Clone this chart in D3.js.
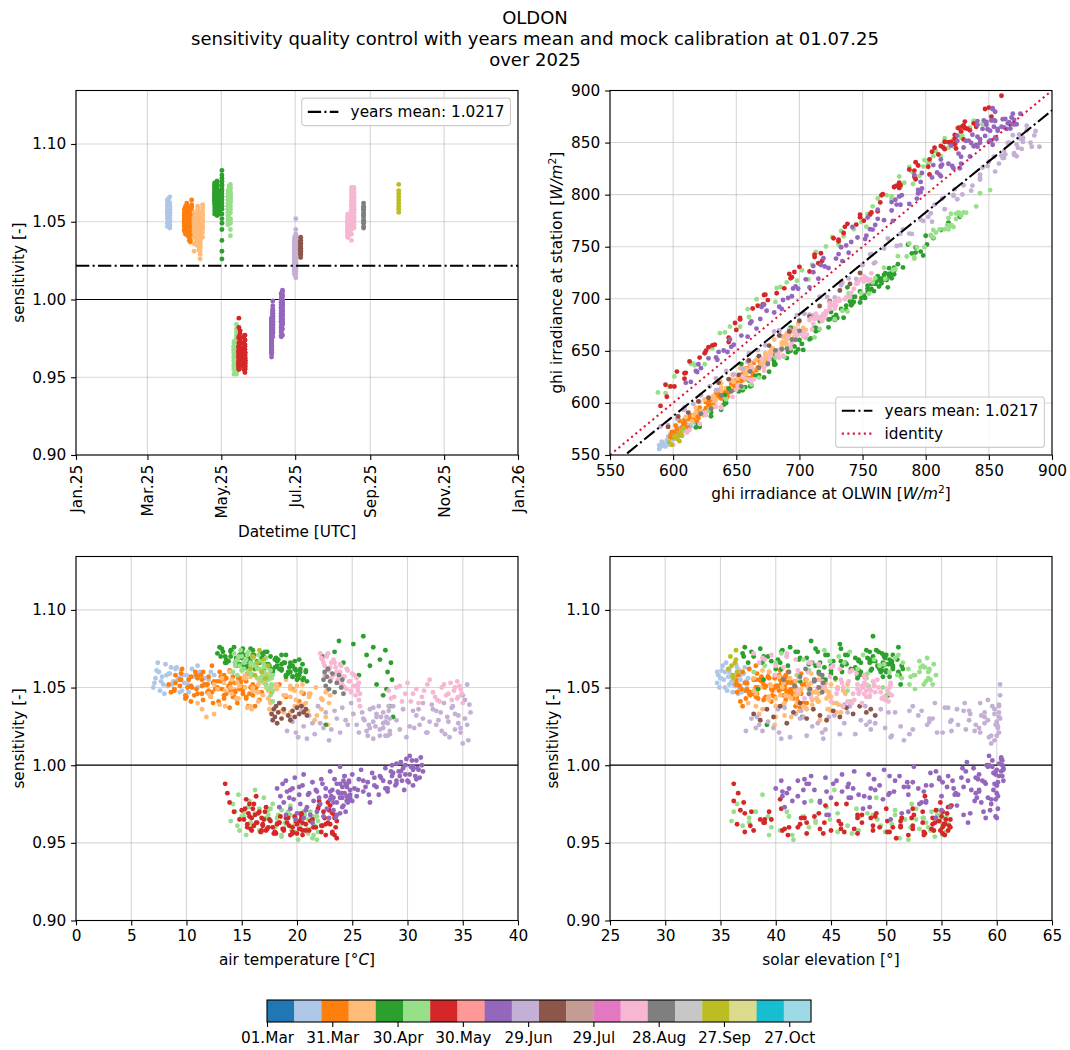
<!DOCTYPE html>
<html><head><meta charset="utf-8">
<script src="https://cdn.jsdelivr.net/npm/d3@7"></script>
<style>body{margin:0;background:#fff}text{font-family:"DejaVu Sans",sans-serif}</style>
</head><body><svg id="c" width="1070" height="1050"></svg>
<script>
// ---------------- data ----------------
const station = "OLDON";
const yearsMean = 1.0217;
const sensLim = [0.90, 1.1344];
const sensTicks = [0.90, 0.95, 1.00, 1.05, 1.10];
const dateTicks = ["2025-01-01","2025-03-01","2025-05-01","2025-07-01","2025-09-01","2025-11-01","2026-01-01"];
const dateTickLabels = ["Jan.25","Mar.25","May.25","Jul.25","Sep.25","Nov.25","Jan.26"];
const ghiTicks = [550, 600, 650, 700, 750, 800, 850, 900];
const tempTicks = [0, 5, 10, 15, 20, 25, 30, 35, 40];
const elevTicks = [25, 30, 35, 40, 45, 50, 55, 60, 65];
const cbarRange = ["2025-03-01", "2025-11-06"];
const cbarTicks = ["2025-03-01","2025-03-31","2025-04-30","2025-05-30","2025-06-29","2025-07-29","2025-08-28","2025-09-27","2025-10-27"];
const cbarTickLabels = ["01.Mar","31.Mar","30.Apr","30.May","29.Jun","29.Jul","28.Aug","27.Sep","27.Oct"];

// per-day measurements: [solar elevation °, ghi at OLWIN W/m², air temperature °C, sensitivity]
const d0317 = [[35.0,592,7.2,1.056],[35.4,596,7.5,1.060],[35.8,600,7.9,1.052],[36.2,604,8.2,1.058],[36.5,607,8.6,1.063],[36.7,609,8.9,1.049],[36.8,610,9.2,1.055],[36.7,608,9.5,1.061],[36.5,606,9.8,1.053],[36.1,603,10.2,1.047],[35.7,599,10.6,1.057],[35.2,594,11.0,1.064]];
const d0318 = [[34.7,589,7.1,1.053],[35.1,593,7.3,1.061],[35.6,598,7.6,1.048],[36.0,602,7.8,1.057],[36.4,606,8.1,1.065],[36.8,610,8.3,1.051],[37.1,613,8.5,1.059],[37.3,615,8.8,1.054],[37.2,614,9.1,1.063],[36.9,611,9.4,1.047],[36.6,608,9.7,1.058],[36.2,604,10.1,1.052],[35.8,600,10.5,1.062],[35.4,596,11.0,1.050],[35.0,592,11.6,1.056],[34.7,589,12.2,1.060]];
const d0319 = [[34.9,591,7.0,1.050],[35.5,597,7.4,1.066],[36.0,602,7.7,1.054],[36.6,608,8.0,1.046],[37.0,612,8.4,1.059],[37.4,615,8.7,1.052],[37.6,617,9.0,1.062],[37.5,616,9.3,1.056],[37.2,613,9.6,1.048],[36.8,609,10.0,1.058],[36.3,605,10.4,1.051],[35.8,600,11.2,1.060],[35.3,595,12.0,1.055],[34.8,590,12.5,1.058]];
const d0331 = [[36.4,598,8.4,1.052],[37.3,608,8.9,1.048],[38.2,619,9.5,1.055],[39.0,628,10.1,1.050],[39.7,636,10.7,1.045],[40.3,642,11.3,1.058],[40.8,647,11.8,1.052],[41.0,649,12.3,1.047],[40.9,648,12.8,1.054],[40.5,644,13.2,1.049],[39.9,638,13.6,1.056],[39.1,629,13.9,1.051],[38.2,619,14.2,1.044],[37.2,607,14.4,1.053]];
const d0401 = [[36.5,599,8.6,1.047],[37.4,609,9.0,1.053],[38.3,620,9.5,1.059],[39.1,629,10.0,1.044],[39.8,637,10.5,1.050],[40.4,643,11.0,1.056],[40.9,648,11.5,1.042],[41.2,651,12.0,1.048],[41.3,652,12.5,1.054],[41.1,650,13.0,1.060],[40.7,646,13.4,1.045],[40.1,640,13.8,1.051],[39.3,631,14.2,1.057],[38.4,621,14.5,1.043],[37.4,609,14.8,1.049],[36.4,598,15.0,1.055]];
const d0402 = [[36.6,600,9.0,1.058],[37.6,612,9.6,1.062],[38.5,622,10.2,1.055],[39.4,632,10.8,1.060],[40.2,641,11.4,1.051],[40.9,648,12.0,1.057],[41.4,653,12.6,1.049],[41.7,656,13.1,1.054],[41.5,654,13.6,1.046],[41.0,649,14.0,1.053],[40.3,642,14.4,1.048],[39.4,632,14.8,1.056],[38.4,621,15.1,1.050],[37.3,609,15.4,1.043]];
const d0403 = [[36.7,601,9.4,1.051],[37.7,613,9.9,1.045],[38.7,624,10.4,1.057],[39.6,634,10.9,1.049],[40.4,643,11.4,1.055],[41.1,650,11.9,1.047],[41.7,656,12.4,1.053],[42.0,659,12.9,1.041],[42.1,660,13.4,1.058],[41.8,657,13.9,1.050],[41.3,652,14.3,1.044],[40.6,645,14.7,1.056],[39.7,635,15.1,1.048],[38.7,624,15.4,1.054],[37.6,612,15.7,1.046],[36.5,599,16.0,1.052]];
const d0404 = [[36.8,602,10.4,1.041],[37.9,615,11.0,1.046],[38.9,626,11.6,1.052],[39.9,637,12.2,1.044],[40.8,647,12.8,1.050],[41.6,655,13.4,1.043],[42.2,661,14.0,1.048],[42.5,664,14.6,1.040],[42.3,662,15.1,1.046],[41.8,657,15.6,1.038],[41.0,649,16.0,1.045],[40.0,638,16.3,1.050],[38.9,626,16.6,1.042],[37.7,613,16.8,1.047]];
const d0405 = [[36.9,603,8.9,1.049],[38.0,616,9.4,1.055],[39.0,627,9.9,1.043],[40.0,638,10.4,1.051],[40.9,648,10.9,1.058],[41.7,656,11.4,1.046],[42.4,663,11.9,1.052],[42.8,667,12.4,1.040],[43.0,669,12.9,1.049],[42.7,666,13.4,1.055],[42.2,661,13.9,1.037],[41.4,653,14.4,1.047],[40.5,643,14.9,1.053],[39.4,631,15.4,1.044],[38.2,618,15.8,1.050],[37.0,605,16.2,1.038]];
const d0406 = [[37.0,605,11.5,1.060],[38.2,619,12.3,1.064],[39.3,631,13.1,1.057],[40.4,643,13.9,1.061],[41.4,654,14.7,1.053],[42.3,663,15.5,1.059],[43.0,670,16.3,1.050],[43.5,675,17.0,1.055],[43.3,673,17.7,1.047],[42.7,667,18.4,1.052],[41.9,659,19.0,1.044],[40.8,647,19.6,1.049],[39.6,634,20.2,1.041],[38.3,620,20.6,1.046]];
const d0408 = [[37.5,610,11.0,1.040],[38.8,625,11.4,1.036],[40.0,638,11.8,1.031],[41.2,651,12.2,1.044],[42.3,663,12.8,1.049],[43.2,672,13.4,1.053],[43.9,679,14.1,1.046],[44.3,683,14.8,1.051],[44.2,682,15.4,1.056],[43.7,677,16.0,1.048],[42.9,669,16.5,1.052],[41.8,657,16.9,1.045],[40.6,645,17.2,1.050],[39.3,631,17.4,1.043]];
const d0410 = [[38.2,618,12.0,1.046],[39.5,633,12.5,1.052],[40.7,646,13.0,1.039],[41.8,658,13.5,1.048],[42.8,668,14.1,1.055],[43.7,677,14.7,1.043],[44.3,683,15.3,1.050],[44.7,687,15.9,1.036],[44.8,688,16.5,1.047],[44.5,685,17.1,1.053],[43.9,679,17.6,1.041],[43.1,671,18.1,1.049],[42.1,661,18.6,1.035],[40.9,648,19.0,1.045],[39.6,634,19.4,1.051],[38.2,618,19.8,1.038]];
const d0411 = [[38.0,615,13.2,1.056],[39.4,632,13.9,1.060],[40.7,646,14.6,1.053],[41.9,659,15.3,1.058],[43.0,670,16.0,1.050],[43.9,679,16.7,1.055],[44.6,686,17.4,1.048],[45.0,690,18.1,1.052],[44.8,688,18.8,1.045],[44.2,682,19.4,1.049],[43.3,673,19.9,1.042],[42.1,661,20.4,1.047],[40.8,647,20.8,1.040],[39.4,632,21.1,1.044]];
const d0412 = [[38.6,622,14.0,1.050],[40.0,638,14.6,1.043],[41.3,652,15.2,1.056],[42.5,665,15.8,1.038],[43.6,676,16.4,1.047],[44.5,685,17.0,1.053],[45.2,692,17.6,1.040],[45.6,696,18.2,1.049],[45.5,695,18.8,1.034],[45.0,690,19.4,1.044],[44.3,683,20.0,1.051],[43.3,673,20.6,1.039],[42.1,661,21.2,1.046],[40.8,647,21.8,1.032],[39.4,632,22.3,1.042],[38.0,616,22.7,1.048]];
const d0413 = [[38.5,621,12.5,1.033],[40.0,638,13.5,1.038],[41.4,653,14.5,1.043],[42.7,667,15.5,1.037],[43.8,678,16.5,1.041],[44.8,688,17.5,1.036],[45.5,695,18.5,1.040],[45.9,699,19.4,1.034],[45.7,697,20.2,1.039],[45.0,690,21.0,1.035],[44.0,680,21.6,1.029],[42.8,668,22.2,1.036],[41.4,653,22.6,1.031],[39.9,637,22.8,1.026]];
const d0415 = [[38.8,624,15.0,1.061],[40.3,641,15.8,1.057],[41.8,657,16.6,1.054],[43.2,672,17.4,1.059],[44.4,684,18.2,1.051],[45.4,694,19.0,1.055],[46.1,701,19.8,1.048],[46.5,705,20.5,1.052],[46.3,703,21.1,1.046],[45.6,696,21.7,1.050],[44.6,686,22.2,1.043],[43.3,673,22.6,1.047],[41.9,658,22.9,1.040],[40.4,642,23.0,1.045]];
const d0425 = [[37.0,618,12.8,1.072],[38.6,638,13.2,1.075],[40.2,657,13.6,1.068],[41.8,676,14.0,1.073],[43.3,693,14.4,1.066],[44.7,709,14.8,1.071],[46.0,724,15.2,1.064],[47.2,737,15.6,1.069],[48.2,748,16.0,1.074],[49.0,757,16.4,1.067],[49.6,763,16.8,1.072],[49.9,766,17.2,1.065],[49.8,765,17.6,1.070],[49.3,760,18.0,1.063],[48.5,751,18.3,1.068],[47.5,740,18.6,1.061],[46.3,727,18.9,1.066],[45.0,712,19.2,1.059],[43.6,696,19.4,1.064],[42.1,679,19.6,1.057],[40.5,660,19.8,1.062],[38.9,641,20.0,1.055]];
const d0426 = [[37.1,620,13.1,1.070],[38.8,641,13.6,1.066],[40.5,661,14.1,1.073],[42.1,680,14.6,1.068],[43.6,697,15.1,1.075],[45.0,713,15.6,1.064],[46.3,728,16.1,1.071],[47.5,741,16.6,1.067],[48.5,752,17.1,1.073],[49.4,762,17.6,1.062],[49.9,768,18.1,1.069],[50.2,771,18.6,1.065],[50.0,769,19.0,1.071],[49.5,763,19.4,1.060],[48.7,754,19.8,1.067],[47.6,742,20.2,1.058],[46.4,729,20.5,1.065],[45.0,713,20.8,1.061]];
const d0427 = [[37.2,621,13.0,1.076],[38.9,642,13.5,1.070],[40.6,662,14.0,1.074],[42.2,681,14.5,1.069],[43.8,699,15.0,1.073],[45.2,715,15.5,1.067],[46.5,730,16.0,1.071],[47.7,743,16.5,1.066],[48.8,755,17.0,1.070],[49.7,765,17.5,1.064],[50.3,771,18.0,1.068],[50.6,775,18.4,1.062],[50.5,774,18.8,1.066],[50.0,768,19.2,1.060],[49.2,760,19.6,1.064],[48.1,748,20.0,1.058],[46.8,733,20.3,1.062],[45.4,717,20.6,1.056],[43.9,700,20.8,1.060],[42.2,681,20.9,1.054],
  [37.8,630,13.3,1.073],[39.6,652,13.8,1.067],[41.3,672,14.3,1.076],[43.0,691,14.8,1.065],[44.5,708,15.3,1.071],[45.9,723,15.8,1.075],[47.2,737,16.3,1.063],[48.3,749,16.8,1.069],[49.3,759,17.3,1.073],[50.0,767,17.8,1.061],[50.5,773,18.2,1.067],[50.6,775,18.6,1.071],[50.3,771,19.0,1.057],[49.7,765,19.4,1.066],[48.7,754,19.8,1.062],[47.5,741,20.2,1.068]];
const d0429 = [[37.5,630,13.5,1.066],[39.3,655,14.0,1.070],[41.1,680,14.5,1.064],[42.8,702,15.0,1.069],[44.4,723,15.4,1.063],[45.9,742,15.8,1.067],[47.3,760,16.2,1.062],[48.5,775,16.6,1.066],[49.6,789,17.0,1.061],[50.5,801,17.4,1.065],[51.1,812,17.8,1.060],[51.4,820,18.2,1.064],[51.5,827,18.6,1.062],[51.2,818,19.0,1.058],[50.6,806,19.3,1.063],[49.7,792,19.6,1.057],[48.6,778,19.9,1.061],[47.4,762,20.1,1.056],[46.0,744,20.3,1.060],[44.5,725,20.5,1.055]];
const d0501 = [[38.0,640,22.3,1.070],[39.2,654,22.6,1.026],[40.0,665,22.8,1.062],[42.0,690,23.4,1.073],[43.2,703,23.8,1.080],[44.0,713,24.2,1.066],[45.8,735,25.1,1.078],[47.4,754,25.6,1.058],[48.8,770,26.0,1.083],[49.8,782,26.3,1.071],[50.6,792,26.6,1.064],[51.1,798,26.9,1.076],[51.3,800,27.2,1.052],[51.0,796,27.5,1.068],[50.2,786,27.8,1.045],[49.1,773,28.0,1.074],[47.7,757,28.2,1.060],[46.1,738,28.4,1.038],[44.3,716,28.6,1.055],[42.4,693,28.7,1.031],[40.4,668,28.5,1.066],[38.4,644,28.1,1.049]];
const d0506 = [[38.0,628,14.2,1.060],[40.0,655,14.4,1.066],[42.0,681,14.6,1.058],[43.9,705,14.8,1.064],[45.7,728,15.0,1.070],[47.4,749,15.2,1.062],[48.9,768,15.4,1.068],[50.3,785,15.6,1.060],[51.5,799,15.8,1.066],[52.5,811,16.0,1.058],[53.3,820,16.2,1.064],[53.8,826,16.4,1.056],[53.9,828,16.6,1.062],[53.6,824,16.8,1.054],[53.0,817,17.0,1.060],[52.1,806,17.2,1.052],[51.0,793,17.4,1.058],[49.7,778,17.6,1.050],[48.2,760,17.7,1.056],[46.5,739,17.8,1.048]];
const d0507 = [[39.0,642,14.4,1.064],[41.0,668,14.7,1.070],[43.0,693,15.0,1.061],[44.9,716,15.3,1.067],[46.7,738,15.6,1.073],[48.3,758,15.9,1.059],[49.8,776,16.2,1.065],[51.1,791,16.5,1.071],[52.2,804,16.8,1.057],[53.1,815,17.0,1.063],[53.7,822,17.2,1.069],[54.0,826,17.4,1.055],[53.9,824,17.6,1.061],[53.4,818,17.7,1.052],[52.6,808,17.8,1.058]];
const d0508 = [[40.5,662,14.3,1.072],[42.5,688,14.6,1.068],[44.4,712,14.9,1.074],[46.2,734,15.2,1.066],[47.9,755,15.5,1.071],[49.4,774,15.8,1.064],[50.8,791,16.1,1.069],[52.0,806,16.4,1.062],[53.0,818,16.6,1.067],[53.8,830,16.8,1.060],[54.3,840,17.0,1.065],[54.5,851,17.1,1.058],[54.2,843,17.2,1.052],[53.5,832,17.3,1.063],[52.6,820,17.4,1.049],[51.4,804,17.5,1.056],[50.0,787,17.6,1.045],[48.4,767,17.7,1.051],[46.7,746,17.8,1.041]];
const d0511 = [[36.0,588,14.0,0.964],[38.2,617,14.4,0.970],[40.4,645,14.8,0.958],[42.5,672,15.2,0.967],[44.6,698,15.6,0.973],[46.5,721,16.0,0.961],[48.3,743,16.4,0.969],[49.9,762,16.8,0.957],[51.4,780,17.2,0.966],[52.7,795,17.6,0.972],[53.8,808,18.0,0.960],[54.6,818,18.3,0.968],[55.1,825,18.6,0.955],[55.3,828,18.9,0.963],[55.0,824,19.2,0.970],[54.3,815,19.5,0.958],[53.3,802,19.8,0.966],[52.0,787,20.1,0.952],[50.5,769,20.4,0.962],[48.8,749,20.7,0.968],[46.9,726,21.0,0.956],[44.9,702,21.3,0.965],
  [43.0,682,21.4,0.960],[41.2,660,21.5,0.967],[39.4,637,21.5,0.955],[37.6,614,21.4,0.963],[36.2,597,21.2,0.970]];
const d0512 = [[37.0,601,14.6,0.961],[39.3,631,15.0,0.967],[41.5,659,15.4,0.955],[43.6,685,15.8,0.963],[45.6,710,16.2,0.969],[47.5,733,16.6,0.958],[49.2,754,17.0,0.965],[50.8,773,17.4,0.971],[52.2,789,17.8,0.960],[53.4,803,18.2,0.966],[54.4,815,18.6,0.954],[55.1,824,19.0,0.962],[55.5,829,19.4,0.968],[55.4,828,19.8,0.957],[54.9,822,20.2,0.964],[54.1,812,20.6,0.970],[53.0,799,21.0,0.959],[51.7,783,21.4,0.965]];
const d0513 = [[36.5,594,14.2,0.975],[38.8,625,14.7,0.981],[41.0,653,15.2,0.970],[43.2,681,15.7,0.977],[45.3,707,16.2,0.984],[47.3,731,16.6,0.972],[49.1,753,17.0,0.979],[50.8,773,17.4,0.968],[52.3,790,17.8,0.975],[53.6,806,18.2,0.963],[54.6,822,18.6,0.971],[55.3,835,19.0,0.966],[55.8,845,19.4,0.974],[55.6,838,19.8,0.962],[55.0,828,20.2,0.969],[54.0,815,20.6,0.958],[52.7,798,21.0,0.965],[51.2,779,21.4,0.953],[49.5,758,21.6,0.961],[47.6,735,21.8,0.967],
  [45.6,713,21.9,0.957],[43.6,690,21.9,0.964],[41.6,666,21.8,0.952],[39.6,641,21.7,0.960],[37.6,616,21.5,0.966]];
const d0515 = [[36.2,590,13.5,0.988],[36.6,595,13.7,0.982],[37.1,601,13.9,0.976],[37.8,610,14.3,0.970],[39.0,625,14.8,0.965],[40.5,644,15.3,0.972],[42.0,663,15.5,0.960],[43.5,682,15.7,0.967],[45.0,700,15.9,0.958],[46.4,718,16.1,0.975],[47.8,735,16.3,0.963],[49.1,751,16.5,0.969],[50.3,766,16.7,0.957],[51.4,779,16.8,0.966],[52.4,791,16.9,0.961],[53.3,802,17.1,0.970],[54.1,812,17.3,0.959],[54.7,820,17.6,0.964],[55.1,826,17.9,0.956],[55.3,828,18.2,0.962],[55.0,824,18.5,0.967],[54.3,815,18.8,0.958],[53.3,803,19.1,0.963],[52.0,787,19.4,0.955],
  [50.6,775,19.6,0.960],[49.0,757,19.8,0.967],[47.4,738,20.0,0.956],[45.7,717,20.2,0.964],[44.0,696,20.3,0.959],[42.3,675,20.4,0.966],[40.6,653,20.5,0.958],[38.9,631,20.5,0.963],[37.2,609,20.4,0.969]];
const d0516 = [[36.8,598,15.0,0.971],[38.6,621,15.2,0.965],[40.4,644,15.4,0.978],[42.2,667,15.5,0.962],[43.9,688,15.6,0.969],[45.5,708,15.7,0.975],[47.1,727,15.8,0.959],[48.6,745,15.9,0.966],[50.0,762,16.0,0.972],[51.3,777,16.1,0.961],[52.5,791,16.2,0.968],[53.5,803,16.3,0.980],[54.4,814,16.4,0.963],[55.1,823,16.6,0.970],[55.6,830,16.8,0.958],[55.8,833,17.0,0.965],[55.6,830,17.2,0.973],[55.1,823,17.4,0.960]];
const d0519 = [[37.2,603,18.0,0.957],[39.0,626,18.4,0.963],[40.8,649,18.8,0.959],[42.6,671,19.2,0.966],[44.3,692,19.6,0.956],[45.9,712,20.0,0.962],[47.4,731,20.4,0.968],[48.8,748,20.8,0.958],[50.1,764,21.2,0.964],[51.3,779,21.5,0.960],[52.4,792,21.9,0.972],[53.4,805,22.2,0.957],[54.2,815,22.5,0.966],[54.9,824,22.8,0.976],[55.3,831,23.0,0.962],[55.5,835,23.2,0.969],[55.3,831,23.4,0.955],[54.8,823,23.6,0.964]];
const d0520 = [[36.5,594,16.9,0.962],[38.0,613,17.2,0.958],[39.6,633,17.5,0.965],[41.2,653,17.8,0.960],[42.8,673,18.1,0.956],[44.4,693,18.4,0.963],[45.9,712,18.7,0.959],[47.4,731,19.0,0.966],[48.8,748,19.3,0.961],[50.1,765,19.6,0.957],[51.3,780,19.9,0.964],[52.4,794,20.2,0.959],[53.4,807,20.5,0.955],[54.2,818,20.8,0.962],[54.9,829,21.1,0.958],[55.4,838,21.4,0.965],[55.8,847,21.7,0.960],[55.9,852,22.0,0.974],[55.7,860,22.3,0.961],[55.2,850,22.6,0.962],[54.5,840,22.9,0.971],[53.5,826,23.2,0.956],[52.3,810,23.4,0.966],[50.9,792,23.6,0.953],
  [49.4,775,23.5,0.960],[47.8,756,23.4,0.968],[46.2,736,23.2,0.957],[44.5,715,23.0,0.974],[42.8,694,22.8,0.963],[41.1,672,22.6,0.955],[39.4,650,22.4,0.970],[37.7,628,22.2,0.961],[36.2,609,22.0,0.977]];
const d0611 = [[40.0,610,18.2,0.985],[42.0,636,18.5,0.980],[44.0,662,18.8,0.976],[46.0,687,19.1,0.983],[47.9,711,19.4,0.972],[49.7,733,19.7,0.978],[51.4,754,20.0,0.969],[53.0,773,20.3,0.975],[54.5,791,20.6,0.966],[55.8,806,20.9,0.973],[57.0,820,21.2,0.968],[58.0,832,21.5,0.977],[58.8,841,21.8,0.970],[59.5,848,22.1,0.975],[59.9,853,22.4,0.967],[60.1,855,22.7,0.972],[59.9,852,23.0,0.978],[59.4,846,23.3,0.971],[58.6,837,23.6,0.976],[57.6,825,23.9,0.969],[56.4,812,24.2,0.974],[55.0,796,24.5,0.980],
  [40.8,620,18.4,0.973],[42.8,646,18.7,0.988],[44.8,672,19.0,0.968],[46.8,697,19.3,0.979],[48.6,720,19.6,0.985],[50.4,742,19.9,0.965],[52.0,762,20.2,0.981],[53.6,780,20.5,0.987],[55.0,797,20.8,0.971],[56.3,812,21.1,0.982],[57.4,825,21.4,0.963],[58.4,836,21.7,0.984],[59.2,845,22.0,0.979],[59.8,851,22.3,0.988],[60.1,854,22.6,0.980],[60.0,853,22.9,0.966],[59.7,849,23.2,0.984],[59.0,841,23.5,0.966],[58.1,830,23.8,0.982],[57.0,818,24.1,0.986],
  [53.6,781,24.5,0.977],[52.0,762,24.4,0.970],[50.3,741,24.3,0.982],[48.5,719,24.1,0.973],[46.6,695,23.9,0.979],[44.6,670,23.6,0.968],[42.6,645,23.3,0.976],[40.6,619,23.0,0.983]];
const d0612 = [[40.5,614,19.0,0.990],[42.5,640,19.4,0.984],[44.5,666,19.8,0.992],[46.5,691,20.2,0.986],[48.4,715,20.6,0.994],[50.2,737,21.0,0.981],[51.9,758,21.4,0.989],[53.4,777,21.8,0.983],[54.8,794,22.2,0.991],[56.1,809,22.6,0.985],[57.2,822,23.0,0.996],[58.2,834,23.3,0.979],[59.0,843,23.6,0.988],[59.6,850,23.9,0.999],[60.0,855,24.1,0.982],[60.2,857,24.3,0.993],[60.0,854,24.5,0.987],[59.5,848,24.6,0.978],[58.7,838,24.7,0.990],[57.7,826,24.8,0.984],
  [56.5,812,24.8,0.981],[55.1,797,24.7,0.989],[53.6,779,24.6,0.976],[52.0,760,24.5,0.986],[50.3,739,24.3,0.993],[48.5,717,24.1,0.979],[46.6,694,23.9,0.988],[44.6,669,23.7,0.983],[42.6,643,23.4,0.991],[40.6,618,23.1,0.980]];
const d0619 = [[41.0,622,24.0,0.982],[43.0,648,24.4,0.988],[45.0,674,24.8,0.979],[47.0,699,25.2,0.985],[48.9,723,25.6,0.991],[50.7,746,26.0,0.983],[52.4,767,26.4,0.989],[54.0,787,26.8,0.995],[55.5,805,27.2,0.986],[56.8,821,27.6,0.992],[57.9,835,28.0,0.998],[58.9,847,28.4,0.989],[59.7,857,28.7,0.995],[60.2,864,29.0,1.001],[60.5,868,29.3,0.993],[60.6,870,29.6,0.998],[60.4,867,29.9,1.004],[59.9,860,30.2,0.994],[59.2,851,30.5,0.999],[58.3,840,30.8,0.991],
  [42.0,635,24.2,0.990],[44.0,661,24.6,0.977],[46.0,686,25.0,0.994],[48.0,711,25.4,0.980],[49.8,734,25.8,0.997],[51.6,756,26.2,0.986],[53.2,776,26.6,0.976],[54.8,796,27.0,0.992],[56.2,813,27.4,0.981],[57.4,828,27.8,0.990],[58.4,841,28.2,0.983],[59.3,852,28.6,1.000],[60.0,861,28.9,0.987],[60.4,866,29.2,0.996],[60.6,869,29.5,0.990],[60.5,868,29.8,1.000],[60.1,863,30.1,0.989],[59.6,856,30.4,1.003]];
const d0620 = [[41.5,628,25.0,0.977],[43.5,654,25.5,0.984],[45.5,680,26.0,0.990],[47.5,705,26.5,0.981],[49.4,729,27.0,0.987],[51.2,752,27.5,0.993],[52.9,773,28.0,0.985],[54.5,793,28.5,0.996],[56.0,811,29.0,0.990],[57.3,827,29.4,1.002],[58.4,841,29.8,0.994],[59.3,853,30.2,1.006],[60.0,862,30.5,0.997],[60.5,870,30.8,1.003],[60.6,875,31.0,0.997],[60.4,872,31.2,1.005],[59.9,865,31.4,0.996],[59.1,855,31.3,1.000],[58.1,843,31.1,0.992],[56.9,828,30.9,0.998],
  [55.6,812,30.7,0.993],[54.1,794,30.5,0.987],[52.5,774,30.3,0.999],[50.8,753,30.0,0.990],[49.0,731,29.7,0.984],[47.1,708,29.4,0.996],[45.2,684,29.0,0.988],[43.2,659,28.6,0.993],[41.2,634,28.2,0.985]];
const d0630 = [[37.3,590,19.1,1.022],[39.3,616,19.6,1.028],[41.3,642,20.1,1.018],[43.3,667,20.6,1.025],[45.3,692,21.1,1.032],[47.2,716,21.6,1.020],[49.0,739,22.1,1.027],[50.8,760,22.6,1.034],[52.4,780,23.1,1.023],[53.9,798,23.6,1.030],[55.3,815,24.1,1.037],[56.5,830,24.6,1.026],[57.6,843,25.1,1.033],[58.5,854,25.6,1.021],[59.2,863,26.1,1.029],[59.8,870,26.6,1.036],[60.1,875,27.1,1.025],[60.2,877,27.6,1.031],[60.0,874,28.0,1.019],
  [38.3,603,19.4,1.031],[40.3,629,19.9,1.021],[42.3,655,20.4,1.035],[44.3,680,20.9,1.017],[46.2,704,21.4,1.027],[48.1,728,21.9,1.038],[49.9,750,22.4,1.024],[51.6,770,22.9,1.016],[53.2,789,23.4,1.035],[54.6,807,23.9,1.021],[55.9,822,24.4,1.029],[57.1,836,24.9,1.040],[58.1,849,25.4,1.026],[58.9,858,25.9,1.034],[59.5,866,26.4,1.019],[60.0,872,26.9,1.028],[60.2,876,27.4,1.038],[60.1,875,27.8,1.024],
  [58.9,860,28.2,1.027],[57.5,843,28.3,1.035],[55.9,823,28.4,1.022],[54.2,802,28.4,1.030],[52.4,780,28.3,1.038],[50.5,757,28.2,1.019],[48.5,733,28.0,1.028],[46.5,708,27.8,1.034],[44.5,684,27.5,1.023],[42.5,659,27.2,1.031],[40.5,634,26.9,1.017],[38.5,609,26.5,1.026]];
const d0701 = [[37.8,596,26.0,1.030],[39.8,622,26.6,1.024],[41.8,648,27.2,1.033],[43.8,673,27.8,1.027],[45.8,698,28.4,1.020],[47.7,722,29.0,1.029],[49.5,745,29.6,1.036],[51.3,767,30.2,1.025],[52.9,787,30.8,1.032],[54.4,805,31.4,1.040],[55.8,822,32.0,1.028],[57.0,837,32.6,1.035],[58.0,850,33.1,1.022],[58.9,861,33.6,1.031],[59.6,870,34.1,1.038],[60.0,877,34.6,1.027],[60.3,884,35.0,1.045],[60.3,890,35.4,1.052],[60.2,886,35.7,1.034],[59.8,880,35.5,1.016],[59.2,872,35.2,1.042],[58.4,862,34.8,1.024],
  [38.8,609,26.3,1.022],[40.8,635,26.9,1.037],[42.8,660,27.5,1.019],[44.8,685,28.1,1.031],[46.7,710,28.7,1.038],[48.6,733,29.3,1.023],[50.4,756,29.9,1.018],[52.1,777,30.5,1.035],[53.7,796,31.1,1.026],[55.1,813,31.7,1.021],[56.4,829,32.3,1.036],[57.5,843,32.8,1.029],[58.5,855,33.3,1.040],[59.3,865,33.8,1.018],[59.8,873,34.3,1.033],[60.2,880,34.8,1.021],[60.3,887,35.2,1.030],[60.2,883,35.6,1.039],[59.9,877,35.4,1.026],[59.5,869,35.0,1.014],
  [58.6,862,34.6,1.032],[57.2,845,34.3,1.023],[55.6,825,34.0,1.037],[53.9,804,33.7,1.028],[52.1,782,33.4,1.020],[50.2,759,33.0,1.034],[48.2,734,32.6,1.026],[46.2,709,32.2,1.039],[44.2,684,31.8,1.021],[42.2,659,31.4,1.030],[40.2,634,31.0,1.036],[38.2,608,30.6,1.024]];
const d0705 = [[38.0,596,17.7,1.033],[38.6,604,17.8,1.029],[39.2,612,17.9,1.036],[39.8,620,18.0,1.031],[40.4,628,18.1,1.038],[41.0,636,18.2,1.027],[41.6,644,18.3,1.034],[42.2,652,18.4,1.040],[42.8,660,18.6,1.030],[43.4,668,18.8,1.036],[44.0,676,19.2,1.032],[44.6,684,19.4,1.029],[45.2,692,19.6,1.035],[45.8,700,19.8,1.031],[46.4,708,20.0,1.037],[47.0,716,20.2,1.033],[47.6,724,20.4,1.038],[48.2,732,20.6,1.034],[48.6,740,20.8,1.036],[49.0,748,20.9,1.032]];
const d0813 = [[42.0,655,28.3,1.048],[43.2,670,28.8,1.044],[44.4,684,29.3,1.051],[45.5,697,29.8,1.046],[46.5,709,30.3,1.041],[47.4,719,30.8,1.049],[48.2,728,31.3,1.044],[48.9,736,31.8,1.052],[49.5,743,32.3,1.047],[50.0,749,32.7,1.042],[50.3,754,33.1,1.050],[50.5,757,33.5,1.045],[50.4,755,33.9,1.053],[50.1,751,34.2,1.048],[49.6,745,34.5,1.043],[48.9,737,34.7,1.051],[48.0,726,34.9,1.046],[46.9,713,35.0,1.040],[45.6,698,34.8,1.049],[44.2,682,34.5,1.054],
  [42.6,662,28.5,1.043],[43.8,677,29.0,1.050],[45.0,691,29.5,1.041],[46.0,703,30.0,1.053],[47.0,714,30.5,1.046],[47.8,724,31.0,1.040],[48.6,732,31.5,1.048],[49.2,740,32.0,1.055],[49.8,746,32.5,1.044],[50.2,751,32.9,1.041],[50.4,756,33.3,1.052],[50.3,753,33.7,1.046],[49.9,748,34.0,1.042],[49.3,741,34.3,1.050],[48.5,731,34.6,1.044]];
const d0816 = [[38.0,600,22.1,1.072],[39.0,613,22.3,1.068],[40.0,626,22.5,1.064],[41.0,638,22.7,1.070],[42.0,650,22.9,1.061],[43.0,662,23.1,1.066],[44.0,673,23.3,1.058],[45.0,684,23.5,1.063],[45.9,694,23.7,1.055],[46.7,703,23.9,1.060],[47.4,711,24.1,1.052],[48.0,718,24.3,1.057],[48.5,724,24.5,1.049],[48.8,728,24.7,1.054],[49.0,731,24.9,1.047],[48.9,729,25.1,1.051],[48.5,724,25.3,1.045],[47.9,717,25.5,1.050],[47.1,708,25.6,1.042],[46.1,697,25.7,1.038]];
const d0818 = [[38.5,607,22.4,1.066],[39.6,621,22.7,1.071],[40.7,634,23.0,1.063],[41.8,647,23.3,1.068],[42.9,660,23.6,1.060],[43.9,672,23.9,1.065],[44.9,683,24.2,1.057],[45.8,693,24.5,1.062],[46.6,702,24.8,1.054],[47.3,710,25.0,1.059],[47.8,716,25.2,1.051],[48.1,720,25.4,1.056],[48.2,721,25.5,1.048],[48.0,718,25.6,1.053],[47.5,712,25.7,1.046],
  [38.8,611,22.2,1.069],[39.9,625,22.5,1.058],[41.0,638,22.8,1.072],[42.1,651,23.1,1.056],[43.2,664,23.4,1.066],[44.2,676,23.7,1.053],[45.2,687,24.0,1.064],[46.1,697,24.3,1.050],[46.9,706,24.6,1.061],[47.6,714,24.9,1.048],[48.0,718,25.2,1.058],[48.2,721,25.5,1.052]];
const d0826 = [[40.7,622,22.4,1.055],[41.2,630,22.5,1.060],[41.7,638,22.6,1.051],[42.2,646,22.7,1.057],[42.7,654,22.8,1.062],[43.1,661,22.9,1.049],[43.5,668,23.0,1.054],[43.9,675,23.2,1.059],[44.2,681,23.4,1.047],[44.3,686,23.6,1.053],[44.2,690,23.8,1.058],[43.9,694,24.0,1.050],[43.5,697,24.1,1.055],[43.0,700,24.2,1.046]];
const d0924 = [[35.7,597,15.8,1.062],[35.9,599,16.0,1.070],[36.1,601,16.2,1.058],[36.3,603,16.4,1.066],[36.4,605,16.6,1.074],[36.5,606,16.8,1.060],[36.4,607,17.0,1.068],[36.2,608,17.2,1.056],[36.0,604,17.4,1.064]];

const days = [
  ["2025-03-17", d0317], ["2025-03-18", d0318], ["2025-03-19", d0319],
  ["2025-03-31", d0331], ["2025-04-01", d0401], ["2025-04-02", d0402], ["2025-04-03", d0403], ["2025-04-04", d0404], ["2025-04-05", d0405], ["2025-04-06", d0406],
  ["2025-04-08", d0408], ["2025-04-10", d0410], ["2025-04-11", d0411], ["2025-04-12", d0412], ["2025-04-13", d0413], ["2025-04-15", d0415],
  ["2025-04-25", d0425], ["2025-04-26", d0426], ["2025-04-27", d0427], ["2025-04-29", d0429], ["2025-05-01", d0501],
  ["2025-05-06", d0506], ["2025-05-07", d0507], ["2025-05-08", d0508], ["2025-05-11", d0511], ["2025-05-12", d0512], ["2025-05-13", d0513],
  ["2025-05-15", d0515], ["2025-05-16", d0516], ["2025-05-19", d0519], ["2025-05-20", d0520],
  ["2025-06-11", d0611], ["2025-06-12", d0612], ["2025-06-19", d0619], ["2025-06-20", d0620],
  ["2025-06-30", d0630], ["2025-07-01", d0701], ["2025-07-05", d0705],
  ["2025-08-13", d0813], ["2025-08-16", d0816], ["2025-08-18", d0818],
  ["2025-08-26", d0826], ["2025-09-24", d0924]
];

// ---------------- styles ----------------
const tab20 = ["#1f77b4","#aec7e8","#ff7f0e","#ffbb78","#2ca02c","#98df8a","#d62728","#ff9896","#9467bd","#c5b0d5",
               "#8c564b","#c49c94","#e377c2","#f7b6d2","#7f7f7f","#c7c7c7","#bcbd22","#dbdb8d","#17becf","#9edae5"];
const FS = 15.3, TICK = 4.9, PAD = 4.9, R = 2.45;
const LW = 2.08, DASHDOT = [13.3, 3.3, 2.1, 3.3].join(","), DOTTED = [2.1, 3.4].join(",");

const parse = d3.utcParse("%Y-%m-%d");
const points = days.flatMap(([d, rows]) => {
  const t = new Date(parse(d).getTime() + 12 * 3600e3);
  return rows.map(r => ({t, elev: r[0], ghi: r[1], temp: r[2], sens: r[3], stn: r[1] / r[3]}));
});
const color = d3.scaleQuantize().domain([parse(cbarRange[0]).getTime(), parse(cbarRange[1]).getTime()]).range(tab20);

const svg = d3.select("#c");
svg.append("rect").attr("width", 1070).attr("height", 1050).attr("fill", "#fff");

const titleLines = [station, "sensitivity quality control with years mean and mock calibration at 01.07.25", "over 2025"];
svg.append("g").selectAll("text").data(titleLines).join("text")
  .attr("x", 535).attr("y", (d, i) => 23.5 + i * 21).attr("text-anchor", "middle")
  .attr("font-size", 18).text(d => d);

function panel(o) {
  const g = svg.append("g");
  const x = o.x.range([o.x0, o.x1]);
  const y = o.y.range([o.y1, o.y0]);
  const id = "clip" + Math.round(o.x0) + "_" + Math.round(o.y0);
  svg.append("clipPath").attr("id", id).append("rect")
    .attr("x", o.x0).attr("y", o.y0).attr("width", o.x1 - o.x0).attr("height", o.y1 - o.y0);
  const grid = g.append("g").attr("stroke", "#b0b0b0").attr("stroke-opacity", 0.5).attr("stroke-width", 1.1);
  grid.selectAll(".gx").data(o.xt).join("line").attr("x1", d => x(d)).attr("x2", d => x(d)).attr("y1", o.y0).attr("y2", o.y1);
  grid.selectAll(".gy").data(o.yt).join("line").attr("y1", d => y(d)).attr("y2", d => y(d)).attr("x1", o.x0).attr("x2", o.x1);
  const plot = g.append("g").attr("clip-path", `url(#${id})`);
  o.draw(plot, x, y);
  g.append("rect").attr("x", o.x0).attr("y", o.y0).attr("width", o.x1 - o.x0).attr("height", o.y1 - o.y0)
    .attr("fill", "none").attr("stroke", "#000").attr("stroke-width", 1.1);
  const ax = g.append("g").attr("transform", `translate(0,${o.y1})`)
    .call(d3.axisBottom(x).tickValues(o.xt).tickFormat(o.xf).tickSize(TICK).tickPadding(PAD));
  const ay = g.append("g").attr("transform", `translate(${o.x0},0)`)
    .call(d3.axisLeft(y).tickValues(o.yt).tickFormat(o.yf).tickSize(TICK).tickPadding(PAD));
  [ax, ay].forEach(a => {
    a.attr("font-size", FS).attr("font-family", "DejaVu Sans");
    a.select(".domain").remove();
    a.selectAll("line").attr("stroke", "#000").attr("stroke-width", 1.1);
    a.selectAll("text").attr("fill", "#000");
  });
  if (o.rotX) {
    ax.selectAll("text").attr("transform", "rotate(-90)").attr("x", -(TICK + PAD)).attr("y", 0)
      .attr("dy", "0.35em").attr("text-anchor", "end");
  }
  return {g, x, y};
}

function scatter(plot, x, y, fx, fy) {
  plot.append("g").selectAll("circle").data(points).join("circle")
    .attr("cx", d => x(fx(d))).attr("cy", d => y(fy(d))).attr("r", R).attr("fill", d => color(d.t.getTime()));
}
function hline(plot, x, y, v, dash, w) {
  const [a, b] = x.range();
  plot.append("line").attr("x1", a).attr("x2", b).attr("y1", y(v)).attr("y2", y(v))
    .attr("stroke", "#000").attr("stroke-width", w).attr("stroke-dasharray", dash);
}
function label(g, txt, x, y, rot) {
  const t = g.append("text").attr("font-size", FS).attr("text-anchor", "middle")
    .attr("transform", `translate(${x},${y})` + (rot ? " rotate(-90)" : ""));
  txt.forEach(p => {
    const s = t.append("tspan").text(p.t);
    if (p.i) s.attr("font-style", "italic");
    if (p.sup) s.attr("font-size", FS * 0.7).attr("dy", -6);
    if (p.down) s.attr("dy", 6);
  });
  return t;
}
function legend(g, x0, y0, items) {
  const w = 208.7, h = 12.2 + items.length * FS + (items.length - 1) * 7.6;
  g.append("rect").attr("x", x0).attr("y", y0).attr("width", w).attr("height", h).attr("rx", 3)
    .attr("fill", "#fff").attr("fill-opacity", 0.8).attr("stroke", "#cccccc").attr("stroke-width", 1.1);
  items.forEach((it, i) => {
    const cy = y0 + 6.1 + FS / 2 + i * (FS + 7.6);
    g.append("line").attr("x1", x0 + 6.1).attr("x2", x0 + 6.1 + 30.6).attr("y1", cy).attr("y2", cy)
      .attr("stroke", it.c).attr("stroke-width", LW).attr("stroke-dasharray", it.dash);
    g.append("text").attr("x", x0 + 6.1 + 30.6 + 12.2).attr("y", cy + 0.36 * FS).attr("font-size", FS).text(it.label);
  });
}
const fmt2 = d3.format(".2f");
const meanLabel = "years mean: " + yearsMean.toFixed(4);

const tl = panel({
  x0: 76, x1: 518, y0: 90.5, y1: 455,
  x: d3.scaleUtc().domain([parse(dateTicks[0]), parse(dateTicks[dateTicks.length - 1])]),
  y: d3.scaleLinear().domain(sensLim),
  xt: dateTicks.map(parse), yt: sensTicks,
  xf: (d, i) => dateTickLabels[i], yf: fmt2, rotX: true,
  draw: (p, x, y) => {
    hline(p, x, y, 1.0, null, 1.2);
    scatter(p, x, y, d => d.t, d => d.sens);
    hline(p, x, y, yearsMean, DASHDOT, LW);
  }
});
label(tl.g, [{t: "Datetime [UTC]"}], 297, 536.5);
label(tl.g, [{t: "sensitivity [-]"}], 24, 272.7, true);
legend(tl.g, 518 - 7.6 - 208.7, 90.5 + 7.6, [{c: "#000", dash: DASHDOT, label: meanLabel}]);

const tr = panel({
  x0: 610, x1: 1052, y0: 90.5, y1: 455,
  x: d3.scaleLinear().domain([ghiTicks[0], ghiTicks[ghiTicks.length - 1]]),
  y: d3.scaleLinear().domain([ghiTicks[0], ghiTicks[ghiTicks.length - 1]]),
  xt: ghiTicks, yt: ghiTicks, xf: d3.format("d"), yf: d3.format("d"),
  draw: (p, x, y) => {
    scatter(p, x, y, d => d.ghi, d => d.stn);
    const [a, b] = x.domain();
    p.append("line").attr("x1", x(a)).attr("x2", x(b)).attr("y1", y(a / yearsMean)).attr("y2", y(b / yearsMean))
      .attr("stroke", "#000").attr("stroke-width", LW).attr("stroke-dasharray", DASHDOT);
    p.append("line").attr("x1", x(a)).attr("x2", x(b)).attr("y1", y(a)).attr("y2", y(b))
      .attr("stroke", "crimson").attr("stroke-width", LW).attr("stroke-dasharray", DOTTED);
  }
});
label(tr.g, [{t: "ghi irradiance at OLWIN ["}, {t: "W/m", i: 1}, {t: "2", sup: 1}, {t: "]", down: 1}], 831, 498.5);
label(tr.g, [{t: "ghi irradiance at station ["}, {t: "W/m", i: 1}, {t: "2", sup: 1}, {t: "]", down: 1}], 561.5, 272.7, true);
legend(tr.g, 1052 - 7.6 - 208.7, 455 - 7.6 - (12.2 + 2 * FS + 7.6), [
  {c: "#000", dash: DASHDOT, label: meanLabel},
  {c: "crimson", dash: DOTTED, label: "identity"}
]);

const bl = panel({
  x0: 76, x1: 518, y0: 556.5, y1: 920.5,
  x: d3.scaleLinear().domain([tempTicks[0], tempTicks[tempTicks.length - 1]]),
  y: d3.scaleLinear().domain(sensLim),
  xt: tempTicks, yt: sensTicks, xf: d3.format("d"), yf: fmt2,
  draw: (p, x, y) => { hline(p, x, y, 1.0, null, 1.2); scatter(p, x, y, d => d.temp, d => d.sens); }
});
label(bl.g, [{t: "air temperature [°"}, {t: "C", i: 1}, {t: "]"}], 297, 964.5);
label(bl.g, [{t: "sensitivity [-]"}], 24, 738.5, true);

const br = panel({
  x0: 610, x1: 1052, y0: 556.5, y1: 920.5,
  x: d3.scaleLinear().domain([elevTicks[0], elevTicks[elevTicks.length - 1]]),
  y: d3.scaleLinear().domain(sensLim),
  xt: elevTicks, yt: sensTicks, xf: d3.format("d"), yf: fmt2,
  draw: (p, x, y) => { hline(p, x, y, 1.0, null, 1.2); scatter(p, x, y, d => d.elev, d => d.sens); }
});
label(br.g, [{t: "solar elevation [°]"}], 831, 964.5);
label(br.g, [{t: "sensitivity [-]"}], 558, 738.5, true);

const cb = svg.append("g");
const cx = d3.scaleUtc().domain(cbarRange.map(parse)).range([267, 811]);
const bins = d3.range(tab20.length);
const binW = (811 - 267) / tab20.length;
cb.selectAll("rect.b").data(bins).join("rect").attr("x", i => 267 + i * binW).attr("y", 1000)
  .attr("width", binW + 0.3).attr("height", 22).attr("fill", i => tab20[i]);
cb.append("rect").attr("x", 267).attr("y", 1000).attr("width", 544).attr("height", 22)
  .attr("fill", "none").attr("stroke", "#000").attr("stroke-width", 1.1);
const cax = cb.append("g").attr("transform", "translate(0,1022)")
  .call(d3.axisBottom(cx).tickValues(cbarTicks.map(parse)).tickFormat((d, i) => cbarTickLabels[i]).tickSize(TICK).tickPadding(PAD));
cax.attr("font-size", FS).attr("font-family", "DejaVu Sans");
cax.select(".domain").remove();
cax.selectAll("line").attr("stroke", "#000").attr("stroke-width", 1.1);
cax.selectAll("text").attr("fill", "#000");
</script></body></html>
